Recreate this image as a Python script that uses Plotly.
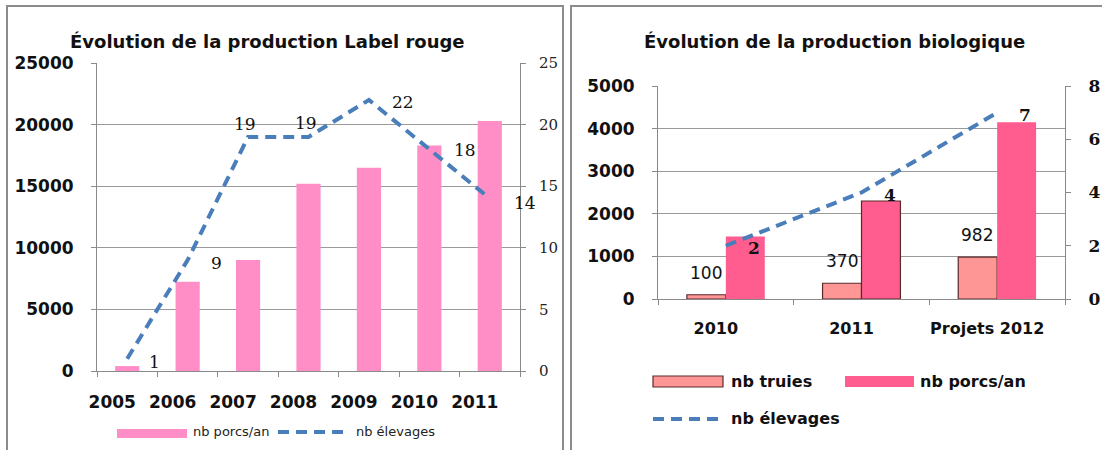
import plotly.graph_objects as go

# ---- Label rouge ----
years_lr = ["2005", "2006", "2007", "2008", "2009", "2010", "2011"]
porcs_lr = [400, 7250, 9000, 15200, 16500, 18300, 20300]
elevages_lr = [1, 9, 19, 19, 22, 18, 14]

# ---- Biologique ----
years_bio = ["2010", "2011", "Projets 2012"]
truies_bio = [100, 370, 982]
porcs_bio = [1470, 2300, 4150]
elevages_bio = [2, 4, 7]

PINK_LR = "#FF8EC6"
PINK_BIO = "#FF5C8F"
SALMON = "#FF9696"
OUTLINE = "#5A2A2A"
BLUE = "#4A7EBB"
GRID = "#9A9A9A"
AXIS = "#8A8A8A"
FRAME = "#8C8C8C"
DASH = "11px,7px"

W, H = 1102, 450


def px(x):
    return x / W


def py(y):
    return 1 - y / H


SANS = "DejaVu Sans"
SERIF = "DejaVu Serif"

fig = go.Figure()

# Label rouge bars and line
fig.add_trace(go.Bar(x=years_lr, y=porcs_lr, width=0.4, marker=dict(color=PINK_LR, line=dict(width=0)),
                     xaxis="x", yaxis="y", name="nb porcs/an"))
fig.add_trace(go.Scatter(x=years_lr, y=elevages_lr, mode="lines", line=dict(color=BLUE, width=4, dash=DASH),
                         xaxis="x", yaxis="y2", name="nb élevages"))

# Biologique bars and line
fig.add_trace(go.Bar(x=years_bio, y=truies_bio, width=0.287, offset=-0.287,
                     marker=dict(color=SALMON, line=dict(color=OUTLINE, width=1.2)),
                     xaxis="x2", yaxis="y3", name="nb truies"))
fig.add_trace(go.Bar(x=years_bio, y=porcs_bio, width=0.287, offset=0,
                     marker=dict(color=PINK_BIO, line=dict(color=OUTLINE, width=[0, 1.2, 0])),
                     xaxis="x2", yaxis="y3", name="nb porcs/an"))
fig.add_trace(go.Scatter(x=years_bio, y=elevages_bio, mode="lines", line=dict(color=BLUE, width=4, dash=DASH),
                         xaxis="x2", yaxis="y4", name="nb élevages"))

tick_bold = dict(family=SANS, size=16, color="#111111", weight="bold")

axis_common = dict(showline=True, linecolor=AXIS, linewidth=1, ticks="outside", ticklen=5,
                   tickcolor=AXIS, zeroline=False, fixedrange=True, automargin=False)

annotations = []
shapes = []

# Titles
annotations.append(dict(text="Évolution de la production Label rouge", x=px(267), y=py(41), xref="paper", yref="paper",
                        xanchor="center", yanchor="middle",
                        showarrow=False, font=dict(family=SANS, size=18, color="#111", weight="bold")))
annotations.append(dict(text="Évolution de la production biologique", x=px(834), y=py(41), xref="paper", yref="paper",
                        xanchor="center", yanchor="middle",
                        showarrow=False, font=dict(family=SANS, size=18, color="#111", weight="bold")))

# Line value labels, Label rouge (x given as category index)
lr_shift = [(27, -3), (29, -3), (-3, 13), (-3, 14), (34, -2), (36, -1), (35, -4)]
for i, (v, (dx, dy)) in enumerate(zip(elevages_lr, lr_shift)):
    annotations.append(dict(text=str(v), x=i, y=v, xref="x", yref="y2", showarrow=False,
                            xanchor="center", yanchor="middle",
                            xshift=dx, yshift=dy, font=dict(family=SERIF, size=17, color="#111")))

# Line value labels, biologique
for i, v in enumerate(elevages_bio):
    annotations.append(dict(text=str(v), x=i, y=v, xref="x2", yref="y4", showarrow=False,
                            xanchor="center", yanchor="middle",
                            xshift=28, yshift=-2, font=dict(family=SERIF, size=17, color="#111", weight="bold")))

# Sow counts above the bars
for i, v in enumerate(truies_bio):
    annotations.append(dict(text=str(v), x=i, y=v, xref="x2", yref="y3", showarrow=False,
                            xanchor="center", yanchor="middle",
                            xshift=-20, yshift=22, font=dict(family=SANS, size=17, color="#111")))

# Legend, Label rouge
shapes.append(dict(type="rect", xref="paper", yref="paper", x0=px(117), x1=px(187), y0=py(438), y1=py(429),
                   fillcolor=PINK_LR, line=dict(width=0)))
annotations.append(dict(text="nb porcs/an", x=px(191), y=py(431), xref="paper", yref="paper", xanchor="left",
                        yanchor="middle", showarrow=False, font=dict(family=SANS, size=13, color="#222")))
shapes.append(dict(type="line", xref="paper", yref="paper", x0=px(278), x1=px(350), y0=py(432), y1=py(432),
                   line=dict(color=BLUE, width=4, dash=DASH)))
annotations.append(dict(text="nb élevages", x=px(354), y=py(431), xref="paper", yref="paper", xanchor="left",
                        yanchor="middle", showarrow=False, font=dict(family=SANS, size=13, color="#222")))

# Legend, biologique
shapes.append(dict(type="rect", xref="paper", yref="paper", x0=px(653), x1=px(723), y0=py(387), y1=py(376),
                   fillcolor=SALMON, line=dict(color=OUTLINE, width=1.2)))
annotations.append(dict(text="nb truies", x=px(729), y=py(381), xref="paper", yref="paper", xanchor="left",
                        yanchor="middle", showarrow=False, font=dict(family=SANS, size=16, color="#111", weight="bold")))
shapes.append(dict(type="rect", xref="paper", yref="paper", x0=px(845), x1=px(914), y0=py(387), y1=py(376),
                   fillcolor=PINK_BIO, line=dict(width=0)))
annotations.append(dict(text="nb porcs/an", x=px(918), y=py(381), xref="paper", yref="paper", xanchor="left",
                        yanchor="middle", showarrow=False, font=dict(family=SANS, size=16, color="#111", weight="bold")))
shapes.append(dict(type="line", xref="paper", yref="paper", x0=px(653), x1=px(723), y0=py(419), y1=py(419),
                   line=dict(color=BLUE, width=4, dash=DASH)))
annotations.append(dict(text="nb élevages", x=px(729), y=py(418), xref="paper", yref="paper", xanchor="left",
                        yanchor="middle", showarrow=False, font=dict(family=SANS, size=16, color="#111", weight="bold")))

# Chart frames
shapes.append(dict(type="rect", xref="paper", yref="paper", x0=px(7), x1=px(563), y0=-0.2, y1=py(6),
                   line=dict(color=FRAME, width=2), layer="below"))
shapes.append(dict(type="rect", xref="paper", yref="paper", x0=px(571), x1=1.2, y0=-0.2, y1=py(6),
                   line=dict(color=FRAME, width=2), layer="below"))

fig.update_layout(
    width=W, height=H,
    margin=dict(l=0, r=0, t=0, b=0, pad=0, autoexpand=False),
    paper_bgcolor="white", plot_bgcolor="white",
    showlegend=False,
    barmode="overlay",
    xaxis=dict(domain=[px(97), px(520)], anchor="y", type="category", tickson="boundaries",
               range=[-0.5, len(years_lr) - 0.5], tickangle=0,
               tickfont=dict(family=SANS, size=17, color="#111", weight="bold"), ticklabelstandoff=16,
               ticklabelshift=-15, showgrid=False, **axis_common),
    yaxis=dict(domain=[py(371), py(63)], anchor="x", range=[0, 25000], dtick=5000, showgrid=True,
               gridcolor=GRID, gridwidth=1, tickfont=dict(family=SANS, size=17, color="#111", weight="bold"),
               tickformat="d", ticklabelstandoff=14, **axis_common),
    yaxis2=dict(overlaying="y", side="right", anchor="x", range=[0, 25], dtick=5, showgrid=False,
                tickfont=dict(family=SERIF, size=15, color="#222"), ticklabelstandoff=10, **axis_common),
    xaxis2=dict(domain=[px(658), px(1065)], anchor="y3", type="category", tickson="boundaries",
                range=[-0.5, len(years_bio) - 0.5], tickangle=0,
                tickfont=tick_bold, ticklabelstandoff=15,
                ticklabelshift=-10, showgrid=False, **axis_common),
    yaxis3=dict(domain=[py(299), py(86)], anchor="x2", range=[0, 5000], dtick=1000, showgrid=True,
                gridcolor=GRID, gridwidth=1, tickfont=dict(family=SANS, size=17, color="#111", weight="bold"),
                tickformat="d", ticklabelstandoff=14, **axis_common),
    yaxis4=dict(overlaying="y3", side="right", anchor="x2", range=[0, 8], dtick=2, showgrid=False,
                tickfont=dict(family=SERIF, size=17, color="#111", weight="bold"), ticklabelstandoff=14,
                **axis_common),
    annotations=annotations,
    shapes=shapes,
)

fig.write_html("out.html")
